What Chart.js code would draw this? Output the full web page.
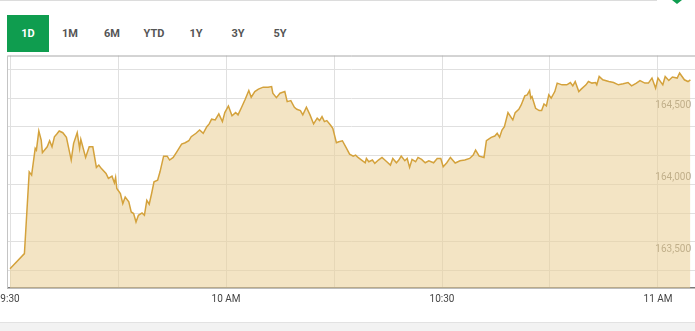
<!DOCTYPE html>
<html>
<head>
<meta charset="utf-8">
<script src="https://cdn.jsdelivr.net/npm/chart.js@4.4.0/dist/chart.umd.min.js"></script>
<style>
  html, body { margin: 0; padding: 0; background: #fff; }
  body { width: 695px; height: 331px; position: relative; overflow: hidden; font-family: Roboto, sans-serif; }
  #topline { position: absolute; left: 0; top: 0; width: 657px; height: 1px; background: #dcdcdc; }
  #arrow { position: absolute; left: 672px; top: 0; width: 0; height: 0;
           border-left: 5px solid transparent; border-right: 5px solid transparent; border-top: 4px solid #0f9d4f; }
  .tab { position: absolute; top: 15px; height: 37px; width: 42px; line-height: 37px; text-align: center;
         font-size: 11px; font-weight: bold; color: #555; }
  .tab.active { background: #0f9d4f; color: #fff; }
  #wrap { position: absolute; left: -3px; top: 48px; width: 698px; height: 270px; }
  #footer { position: absolute; left: 0; top: 322px; width: 695px; height: 9px; background: #f2f2f2; border-top: 1px solid #e2e2e2; }
</style>
</head>
<body>
<div id="topline"></div>
<div id="arrow"></div>
<div id="tabs"></div>
<div id="wrap"><canvas id="chartIndex"></canvas></div>
<div id="footer"></div>
<script>
var tabLabels = ["1D", "1M", "6M", "YTD", "1Y", "3Y", "5Y"];

var times = [
  "9:30:00","9:32:00","9:32:40","9:33:00","9:33:30","9:33:40","9:34:00","9:34:20","9:34:30","9:35:10",
  "9:35:30","9:35:50","9:36:10","9:36:30","9:36:50","9:37:20","9:37:50","9:38:30","9:38:50","9:39:20",
  "9:39:40","9:39:50","9:40:30","9:41:00","9:41:30","9:42:00","9:42:20","9:42:40","9:43:20","9:43:40",
  "9:44:10","9:44:30","9:44:40","9:44:50","9:45:20","9:45:40","9:46:00","9:46:30","9:46:50","9:47:10",
  "9:47:30","9:47:50","9:48:20","9:48:40","9:49:00","9:49:20","9:49:40","9:50:00","9:50:30","9:50:50",
  "9:51:20","9:51:50","9:52:10","9:52:40","9:53:10","9:53:50","9:54:20","9:54:50","9:55:10","9:55:50",
  "9:56:20","9:56:50","9:57:20","9:57:40","9:58:00","9:58:30","9:59:00","9:59:30","9:59:50","10:00:20",
  "10:00:50","10:01:20","10:01:40","10:02:10","10:02:40","10:03:10","10:03:30","10:04:00","10:04:30","10:05:10",
  "10:05:50","10:06:20","10:06:30","10:07:00","10:07:30","10:08:10","10:08:30","10:09:00","10:09:30","10:09:50",
  "10:10:20","10:10:40","10:11:10","10:11:40","10:12:10","10:12:40","10:13:00","10:13:20","10:13:40","10:14:00",
  "10:14:30","10:14:50","10:15:20","10:15:40","10:16:10","10:16:40","10:17:10","10:17:40","10:18:00","10:18:20",
  "10:18:50","10:19:20","10:19:30","10:19:50","10:20:20","10:20:40","10:21:10","10:21:40","10:22:20","10:22:50",
  "10:23:10","10:23:40","10:24:00","10:24:20","10:24:50","10:25:10","10:25:30","10:25:50","10:26:20","10:26:40",
  "10:27:10","10:27:40","10:28:10","10:28:50","10:29:20","10:29:50","10:30:10","10:30:40","10:31:10","10:31:50",
  "10:32:30","10:33:10","10:33:50","10:34:20","10:34:40","10:35:10","10:35:50","10:36:10","10:36:50","10:37:20",
  "10:37:40","10:38:00","10:38:20","10:38:40","10:39:10","10:39:40","10:39:50","10:40:10","10:40:40","10:41:00",
  "10:41:30","10:41:50","10:42:10","10:42:20","10:42:30","10:43:00","10:43:30","10:43:50","10:44:10","10:44:30",
  "10:44:50","10:45:10","10:45:40","10:46:00","10:46:40","10:47:20","10:47:50","10:48:10","10:48:30","10:49:00",
  "10:49:20","10:50:00","10:50:20","10:50:50","10:51:20","10:51:30","10:51:50","10:52:20","10:53:10","10:53:50",
  "10:54:30","10:55:10","10:55:50","10:56:20","10:57:00","10:57:30","10:58:10","10:58:40","10:59:10","10:59:40",
  "11:00:00","11:00:40","11:01:00","11:01:30","11:02:00","11:02:40","11:03:00","11:03:40","11:04:10","11:04:30"
];

var prices = [
  163414,163519,164088,164065,164251,164239,164372,164309,164221,164262,
  164304,164262,164332,164351,164372,164360,164328,164170,164286,164360,
  164251,164314,164188,164262,164262,164119,164135,164112,164077,164042,
  164058,164011,164049,163972,163937,163867,163913,163879,163809,163798,
  163739,163786,163802,163786,163890,163863,163937,164018,164030,164088,
  164197,164197,164170,164188,164227,164281,164290,164304,164332,164356,
  164379,164356,164402,164421,164454,164449,164491,164437,164500,164546,
  164478,164500,164484,164537,164593,164653,164607,164646,164663,164677,
  164677,164681,164635,164604,164635,164646,164576,164583,164537,164523,
  164514,164484,164537,164484,164421,164461,164444,164472,164437,164444,
  164414,164391,164290,164297,164304,164258,164211,164197,164204,164188,
  164170,164151,164181,164158,164170,164147,164170,164188,164158,164135,
  164181,164151,164170,164197,164165,164181,164119,164174,164158,164188,
  164174,164151,164165,164151,164181,164181,164123,164151,164188,164149,
  164165,164170,164181,164204,164239,164197,164188,164304,164328,164337,
  164356,164328,164379,164402,164500,164461,164449,164500,164523,164553,
  164616,164623,164653,164600,164611,164530,164514,164514,164560,164546,
  164623,164600,164646,164705,164693,164693,164709,164686,164716,164646,
  164663,164693,164716,164705,164709,164693,164751,164728,164716,164709,
  164693,164700,164709,164686,164705,164723,164705,164705,164740,164670,
  164740,164693,164751,164723,164747,164740,164775,164728,164716,164728
];

// time axis ticks in minutes after midnight
var timeTicks = [570, 585, 600, 615, 630, 645, 660];
var timeTickLabels = {570: "9:30", 600: "10 AM", 630: "10:30", 660: "11 AM"};
var priceTicks = [163300,163400,163500,163600,163700,163800,163900,164000,164100,164200,164300,164400,164500,164600,164700,164800];

var tabsDiv = document.getElementById("tabs");
tabLabels.forEach(function(t, i) {
    var d = document.createElement("div");
    d.className = "tab" + (i == 0 ? " active" : "");
    d.style.left = (7 + i * 42) + "px";
    d.textContent = t;
    tabsDiv.appendChild(d);
});

function toMinutes(s) {
    var p = s.split(":");
    return parseInt(p[0]) * 60 + parseInt(p[1]) + parseInt(p[2]) / 60;
}

var points = times.map(function(t, i) {
    return {x: toMinutes(t), y: prices[i]};
});

var frameLines = {
    id: 'frameLines',
    afterDraw: function(chart) {
        var a = chart.chartArea, c = chart.ctx;
        c.save();
        c.lineWidth = 1;
        c.strokeStyle = '#a8a8a8';
        c.beginPath();
        c.moveTo(a.left, a.top + 0.5);
        c.lineTo(a.right, a.top + 0.5);
        c.stroke();
        c.strokeStyle = '#c4c4c4';
        c.beginPath();
        c.moveTo(a.left - 0.5, a.top);
        c.lineTo(a.left - 0.5, a.bottom);
        c.stroke();
        c.restore();
    }
};

var chartIndex = new Chart(document.getElementById("chartIndex"), {
    type: 'line',
    data: {
        datasets: [{
            label: "Index",
            data: points,
            borderColor: '#d4a23c',
            backgroundColor: 'rgba(234, 208, 151, 0.57)',
            borderWidth: 1.5,
            pointRadius: 0,
            tension: 0,
            fill: 'start'
        }]
    },
    options: {
        responsive: true,
        maintainAspectRatio: false,
        animation: false,
        layout: {padding: {left: 11, top: 7.5, right: 0, bottom: 0}},
        plugins: {
            legend: {display: false},
            tooltip: {enabled: false}
        },
        scales: {
            x: {
                type: 'linear',
                min: 569.72,
                max: 665.14,
                afterBuildTicks: function(scale) {
                    scale.ticks = timeTicks.map(function(v) { return {value: v}; });
                },
                afterFit: function(scale) {
                    scale.height = 30;
                    scale.paddingLeft = 0;
                    scale.paddingRight = 0;
                },
                grid: {color: '#e0e0e0', drawTicks: false},
                border: {color: '#7a7a7a', width: 1.5},
                ticks: {
                    autoSkip: false,
                    maxRotation: 0,
                    padding: 5,
                    color: '#444',
                    font: {family: 'Roboto', size: 10},
                    callback: function(v) { return timeTickLabels[v] || ''; }
                }
            },
            y: {
                position: 'right',
                min: 163280,
                max: 164897,
                afterBuildTicks: function(scale) {
                    scale.ticks = priceTicks.map(function(v) { return {value: v}; });
                },
                afterFit: function(scale) {
                    scale.width = 0;
                },
                grid: {
                    drawTicks: false,
                    color: function(ctx) {
                        return ctx.tick && ctx.tick.value % 200 == 0 ? '#e0e0e0' : 'rgba(0,0,0,0)';
                    }
                },
                border: {display: false},
                ticks: {
                    mirror: true,
                    padding: -4,
                    labelOffset: -7,
                    color: '#8a8478',
                    font: {family: 'Roboto', size: 10},
                    callback: function(v) {
                        return v % 500 == 0 ? v.toLocaleString('en-US') : '';
                    }
                }
            }
        }
    },
    plugins: [frameLines]
});
</script>
</body>
</html>
